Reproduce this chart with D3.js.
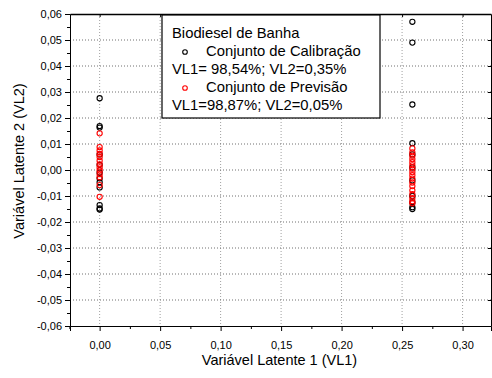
<!DOCTYPE html>
<html>
<head>
<meta charset="utf-8">
<script src="https://cdn.jsdelivr.net/npm/d3@7"></script>
<style>
  body { margin: 0; background: #fff; }
  svg { display: block; font-family: "Liberation Sans", Arial, sans-serif; }
  svg text { font-family: "Liberation Sans", Arial, sans-serif; }
</style>
</head>
<body>
<div class="chartContainer"></div>
<script>
// data
const xTicks = [0, 0.05, 0.1, 0.15, 0.2, 0.25, 0.3];
const yTicks = [-0.06, -0.05, -0.04, -0.03, -0.02, -0.01, 0, 0.01, 0.02, 0.03, 0.04, 0.05, 0.06];
const xMinor = [-0.025, 0.025, 0.075, 0.125, 0.175, 0.225, 0.275, 0.325];
const yMinor = [-0.055, -0.045, -0.035, -0.025, -0.015, -0.005, 0.005, 0.015, 0.025, 0.035, 0.045, 0.055];

// Conjunto de Calibração (black)
const calX = [0, 0, 0, 0, 0, 0, 0, 0, 0, 0, 0, 0,
  0.2585, 0.2585, 0.2585, 0.2585, 0.2585, 0.2585, 0.2585, 0.2585, 0.2585, 0.2585, 0.2585];
const calY = [0.0276, 0.0169, 0.0163, 0.006, 0.002, -0.001, -0.0032, -0.0047, -0.0067, -0.0135, -0.0148, -0.0152,
  0.057, 0.049, 0.0252, 0.0103, 0.006, 0.001, -0.004, -0.01, -0.0125, -0.0143, -0.015];

// Conjunto de Previsão (red)
const prevX = [0, 0, 0, 0, 0, 0, 0, 0, 0, 0, 0, 0, 0,
  0.2585, 0.2585, 0.2585, 0.2585, 0.2585, 0.2585, 0.2585, 0.2585, 0.2585, 0.2585, 0.2585, 0.2585, 0.2585, 0.2585, 0.2585, 0.2585, 0.2585];
const prevY = [0.0141, 0.0088, 0.0075, 0.0062, 0.005, 0.0036, 0.0022, 0.001, -0.0002, -0.0016, -0.0028, -0.0058, -0.0103,
  0.0083, 0.0068, 0.0055, 0.0042, 0.003, 0.0018, 0.0005, -0.0008, -0.002, -0.0033, -0.0048, -0.0062, -0.0078, -0.0093, -0.0108, -0.012, -0.0128];

const legendLines = ["Biodiesel de Banha", "Conjunto de Calibração", "VL1= 98,54%; VL2=0,35%", "Conjunto de Previsão", "VL1=98,87%; VL2=0,05%"];

const width = 492,
  height = 378,
  plotLeft = 70,
  plotRight = 491,
  plotTop = 14,
  plotBottom = 326;

const fmt2 = d3.formatLocale({ decimal: ",", thousands: ".", grouping: [3], currency: ["", ""], minus: "-" }).format(".2f");

const svg = d3
  .select(".chartContainer")
  .append("svg")
  .attr("width", width)
  .attr("height", height);

const xScale = d3.scaleLinear().domain([-0.0245, 0.3235]).range([plotLeft, plotRight]);
const yScale = d3.scaleLinear().domain([-0.06, 0.06]).range([plotBottom, plotTop]);

// dotted grid
svg.append("g")
  .selectAll("line")
  .data(xTicks)
  .enter()
  .append("line")
  .attr("x1", (d) => xScale(d))
  .attr("x2", (d) => xScale(d))
  .attr("y1", plotTop)
  .attr("y2", plotBottom)
  .attr("stroke", "#a0a0a0")
  .attr("stroke-dasharray", "1,2");

svg.append("g")
  .selectAll("line")
  .data(yTicks.slice(1, -1))
  .enter()
  .append("line")
  .attr("x1", plotLeft)
  .attr("x2", plotRight)
  .attr("y1", (d) => yScale(d))
  .attr("y2", (d) => yScale(d))
  .attr("stroke", "#707070")
  .attr("stroke-dasharray", "1,2");

// left axis
svg.append("g")
  .attr("transform", `translate(${plotLeft},0)`)
  .call(d3.axisLeft(yScale).tickValues(yTicks).tickFormat(fmt2).tickSize(5).tickPadding(3))
  .call((g) => g.selectAll("text").attr("font-size", 11).attr("fill", "#000"));
svg.append("g")
  .attr("transform", `translate(${plotLeft},0)`)
  .call(d3.axisLeft(yScale).tickValues(yMinor).tickFormat("").tickSize(3))
  .call((g) => g.select(".domain").remove());

// bottom axis
svg.append("g")
  .attr("transform", `translate(0,${plotBottom})`)
  .call(d3.axisBottom(xScale).tickValues(xTicks).tickFormat(fmt2).tickSize(5).tickPadding(10))
  .call((g) => g.selectAll("text").attr("font-size", 11).attr("fill", "#000"));
svg.append("g")
  .attr("transform", `translate(0,${plotBottom})`)
  .call(d3.axisBottom(xScale).tickValues(xMinor).tickFormat("").tickSize(3))
  .call((g) => g.select(".domain").remove());

// top and right frame with inward ticks
svg.append("g")
  .attr("transform", `translate(0,${plotTop})`)
  .call(d3.axisBottom(xScale).tickValues(xTicks).tickFormat("").tickSizeInner(3).tickSizeOuter(0))
  .call((g) => g.select(".domain").attr("stroke-width", 1.5));
svg.append("g")
  .attr("transform", `translate(${plotRight},0)`)
  .call(d3.axisLeft(yScale).tickValues(yTicks).tickFormat("").tickSizeInner(3).tickSizeOuter(0));

// axis titles
svg.append("text")
  .attr("x", (plotLeft + plotRight) / 2 - 1)
  .attr("y", 365)
  .attr("text-anchor", "middle")
  .attr("font-size", 14.5)
  .text("Variável Latente 1 (VL1)");
svg.append("text")
  .attr("transform", "translate(24,161) rotate(-90)")
  .attr("text-anchor", "middle")
  .attr("font-size", 14.5)
  .text("Variável Latente 2 (VL2)");

// points
svg.append("g")
  .selectAll("circle")
  .data(calY)
  .enter()
  .append("circle")
  .attr("cx", (d, i) => xScale(calX[i]))
  .attr("cy", (d) => yScale(d))
  .attr("r", 2.6)
  .attr("fill", "none")
  .attr("stroke", "#000")
  .attr("stroke-width", 1.1);

svg.append("g")
  .selectAll("circle")
  .data(prevY)
  .enter()
  .append("circle")
  .attr("cx", (d, i) => xScale(prevX[i]))
  .attr("cy", (d) => yScale(d))
  .attr("r", 2.6)
  .attr("fill", "none")
  .attr("stroke", "#ff0000")
  .attr("stroke-width", 1.1);

// legend
const legend = svg.append("g");
legend.append("rect")
  .attr("x", 162)
  .attr("y", 15)
  .attr("width", 218)
  .attr("height", 103)
  .attr("fill", "#fff")
  .attr("stroke", "#000")
  .attr("stroke-width", 1.2);

const lineY = [38, 56, 74, 92, 110];
legendLines.forEach((t, i) => {
  legend.append("text")
    .attr("x", i === 1 || i === 3 ? 206 : 172)
    .attr("y", lineY[i])
    .attr("font-size", 14.8)
    .text(t);
});
legend.append("circle").attr("cx", 185).attr("cy", 52).attr("r", 2.3)
  .attr("fill", "none").attr("stroke", "#000").attr("stroke-width", 1.1);
legend.append("circle").attr("cx", 185).attr("cy", 88).attr("r", 2.3)
  .attr("fill", "none").attr("stroke", "#ff0000").attr("stroke-width", 1.1);
</script>
</body>
</html>
